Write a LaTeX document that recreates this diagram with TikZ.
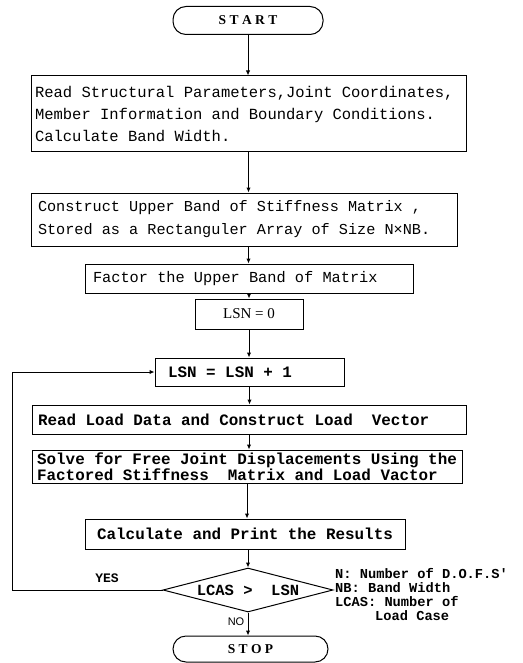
\documentclass[tikz,border=0pt]{standalone}
\usepackage{fontspec}
\setmonofont{Liberation Mono}
\setmainfont{Liberation Serif}
\newfontfamily\sansf{Liberation Sans}
\newcommand\sk{\spaceskip=0.6em\relax\xspaceskip=0.6em\relax}
\usetikzlibrary{shapes.geometric,arrows.meta}
\begin{document}
\begin{tikzpicture}[x=1pt,y=-1pt,
 box/.style={draw, line width=1pt, inner ysep=0pt, align=left},
 mono/.style={font=\ttfamily\fontsize{15.3}{15}\selectfont},
 monob/.style={font=\ttfamily\bfseries\fontsize{15.9}{15}\selectfont},
 arr/.style={line width=1pt, -{Latex[length=5pt,width=4.5pt]}},
 term/.style={draw, line width=1pt, rounded corners=13pt, minimum width=150pt, minimum height=28pt, inner sep=0pt, font=\bfseries\fontsize{13.5}{14}\selectfont},
 lab/.style={inner sep=0pt},
]
\useasboundingbox (0,0) rectangle (522,663);
\node[term] (start) at (248,20.5) {S T A R T};
\node[box, font=\ttfamily\fontsize{15.5}{22}\selectfont, minimum width=435pt, minimum height=76pt, text width=427pt, inner xsep=4pt] (b1) at (248.5,114)
 {\sk Read Structural Parameters,Joint Coordinates,\\Member Information and Boundary Conditions.\\Calculate Band Width.};
\node[box, font=\ttfamily\fontsize{15.2}{23}\selectfont, minimum width=426pt, minimum height=53pt, text width=412pt, inner xsep=7pt] (b2) at (244,219.5)
 {\sk Construct Upper Band of Stiffness Matrix ,\\Stored as a Rectanguler Array of Size N×NB.};
\node[box, mono, minimum width=328pt, minimum height=29pt, text width=312pt, inner xsep=8pt] (b3) at (249,278.5)
 {\sk Factor the Upper Band of Matrix};
\node[box, font=\rmfamily\fontsize{15}{15}\selectfont, minimum width=108pt, minimum height=30pt, align=center, inner xsep=0pt] (b4) at (249,314) {LSN = 0};
\node[box, monob, minimum width=189pt, minimum height=28pt, text width=163pt, inner xsep=13pt] (b5) at (249.5,372)
 {\sk LSN = LSN + 1};
\node[box, monob, minimum width=434pt, minimum height=29pt, text width=422pt, inner xsep=6pt] (b6) at (249,419.5)
 {\sk Read Load Data and Construct Load\ \ Vector};
\node[box, monob, minimum width=430pt, minimum height=33pt, inner xsep=0pt] (b7) at (247,466.5)
 {\sk Solve for Free Joint Displacements Using the\\Factored Stiffness\ \ Matrix and Load Vactor};
\node[box, monob, minimum width=320pt, minimum height=30pt, inner xsep=0pt] (b8) at (245,534)
 {\sk Calculate and Print the Results};
\node[draw, diamond, aspect=3.86, line width=1pt, inner sep=0pt, minimum width=170pt, minimum height=44pt, font=\ttfamily\bfseries\fontsize{15.5}{15}\selectfont] (dia) at (248,590) {LCAS >\ \ LSN};
\node[term, minimum width=155pt, minimum height=26pt] (stop) at (250.5,649) {S T O P};
\node[lab, font=\ttfamily\bfseries\fontsize{13}{13}\selectfont] (yes) at (107,578) {YES};
\node[lab, font=\sansf\fontsize{11}{11}\selectfont] (no) at (236,622) {NO};
\node[lab, anchor=north west, align=left, font=\ttfamily\bfseries\fontsize{13.7}{14}\selectfont] (leg) at (335,568)
 {\sk N: Number of D.O.F.S'\\NB: Band Width\\LCAS: Number of\\\hspace*{40pt}Load Case};
\coordinate (lp) at (12,0);
\draw[arr] (start.south) -- (start.south |- b1.north);
\draw[arr] (b1.south) -- (b1.south |- b2.north);
\draw[arr] (b1.south |- b2.south) -- (b1.south |- b3.north);
\draw[arr] (b3.south) -- (b3.south |- b4.north);
\draw[arr] (b4.south) -- (b4.south |- b5.north);
\draw[arr] (b5.south) -- (b5.south |- b6.north);
\draw[arr] (b6.south) -- (b6.south |- b7.north);
\draw[arr] (b7.south) -- (b7.south |- b8.north);
\draw[arr] (dia.north |- b8.south) -- (dia.north);
\draw[arr] (dia.south) -- (dia.south |- stop.north);
\draw[arr] (dia.west) -- (lp |- dia.west) |- (b5.west);
\end{tikzpicture}
\end{document}
